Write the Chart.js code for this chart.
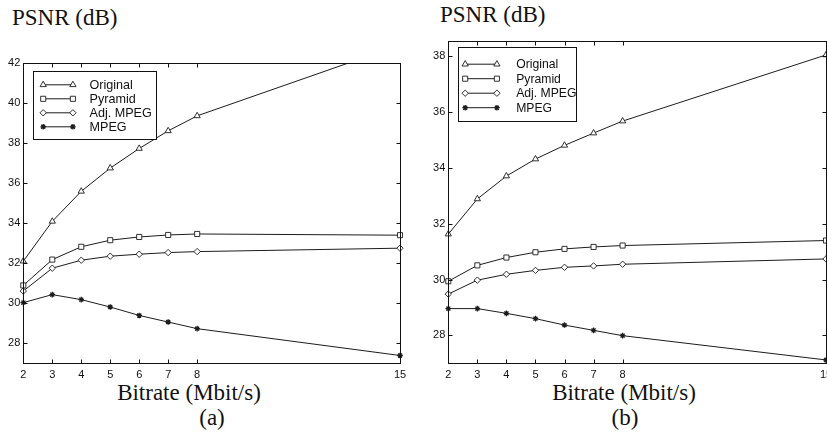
<!DOCTYPE html>
<html>
<head>
<meta charset="utf-8">
<script src="https://cdn.jsdelivr.net/npm/chart.js"></script>
<style>
  html, body { margin:0; padding:0; background:#fff; overflow:hidden; }
  body { width:827px; height:434px; position:relative; }
  canvas { position:absolute; top:0; }
  .txt { position:absolute; font-family:'Liberation Serif','Times New Roman',serif; font-size:23px; line-height:1; color:#111; white-space:nowrap; }
  .mitte { transform:translateX(-50%); }
</style>
</head>
<body>
<div class="txt" style="left:12px;top:6px;">PSNR (dB)</div>
<div class="txt" style="left:440px;top:3px;">PSNR (dB)</div>
<div class="txt mitte" style="left:189px;top:381px;">Bitrate (Mbit/s)</div>
<div class="txt mitte" style="left:624px;top:381px;">Bitrate (Mbit/s)</div>
<div class="txt mitte" style="left:212px;top:406px;">(a)</div>
<div class="txt mitte" style="left:625px;top:406px;">(b)</div>

<canvas id="chart-a" width="415" height="434" style="left:0px;"></canvas>
<canvas id="chart-b" width="415" height="434" style="left:425px;"></canvas>

<script>
// ── Daten (a) ──
const bitrateA  = [2, 3, 4, 5, 6, 7, 8, 15];
const originalA = [32.1, 34.09, 35.59, 36.75, 37.73, 38.61, 39.36, 42.9];
const pyramidA  = [30.89, 32.18, 32.82, 33.15, 33.31, 33.41, 33.46, 33.4];
const adjMpegA  = [30.61, 31.75, 32.15, 32.35, 32.45, 32.53, 32.58, 32.75];
const mpegA     = [30.03, 30.43, 30.18, 29.81, 29.39, 29.06, 28.73, 27.39];

// ── Daten (b) ──
const bitrateB  = [2, 3, 4, 5, 6, 7, 8, 15];
const originalB = [31.63, 32.89, 33.71, 34.32, 34.81, 35.25, 35.68, 38.05];
const pyramidB  = [29.94, 30.51, 30.79, 30.98, 31.1, 31.17, 31.22, 31.4];
const adjMpegB  = [29.48, 29.98, 30.19, 30.33, 30.44, 30.49, 30.55, 30.74];
const mpegB     = [28.96, 28.96, 28.79, 28.6, 28.37, 28.18, 27.99, 27.12];

// ── Achsen ──
const xTicks      = [2, 3, 4, 5, 6, 7, 8, 15];
const xTickLabels = ['2', '3', '4', '5', '6', '7', '8', '15'];
const yTicksA     = [28, 30, 32, 34, 36, 38, 40, 42];
const yTicksB     = [28, 30, 32, 34, 36, 38];
const serien      = ['Original', 'Pyramid', 'Adj. MPEG', 'MPEG'];

const SCHRIFT = "'Liberation Sans', Arial, sans-serif";
const LINIE = '#1c1c1c';

const stile = [
  { pointStyle: 'triangle', pointRadius: 3.6 },
  { pointStyle: 'rect',     pointRadius: 3.6 },
  { pointStyle: 'rectRot',  pointRadius: 3.2 },
  { pointStyle: 'star',     pointRadius: 2.8 }
];

// ── Rahmen, Ticks nach innen, Legende ──
const rahmenPlugin = {
  id: 'rahmen',
  afterDraw(chart, args, opts) {
    const { ctx, chartArea: a, scales: { x, y } } = chart;
    const l = Math.round(a.left) + 0.5, r = Math.round(a.right) + 0.5;
    const t = Math.round(a.top) + 0.5,  b = Math.round(a.bottom) + 0.5;
    ctx.save();
    ctx.strokeStyle = '#111';
    ctx.lineWidth = 1;
    ctx.strokeRect(l, t, r - l, b - t);

    ctx.beginPath();
    x.ticks.forEach(tk => {
      const px = Math.round(x.getPixelForValue(tk.value)) + 0.5;
      ctx.moveTo(px, b); ctx.lineTo(px, b - 4);
      ctx.moveTo(px, t); ctx.lineTo(px, t + 4);
    });
    y.ticks.forEach(tk => {
      const py = Math.round(y.getPixelForValue(tk.value)) + 0.5;
      ctx.moveTo(l, py); ctx.lineTo(l + 4, py);
      ctx.moveTo(r, py); ctx.lineTo(r - 4, py);
    });
    ctx.stroke();

    // Legende
    const lg = opts.legende;
    const bx = Math.round(a.left + lg.x) + 0.5, by = Math.round(a.top + lg.y) + 0.5;
    ctx.fillStyle = '#fff';
    ctx.fillRect(bx, by, lg.w, lg.h);
    ctx.strokeRect(bx, by, lg.w, lg.h);
    ctx.font = `${lg.font}px ${SCHRIFT}`;
    ctx.textBaseline = 'middle';
    chart.data.datasets.forEach((ds, i) => {
      const yy = by + lg.zeile0 + i * lg.abstand;
      ctx.strokeStyle = LINIE;
      ctx.lineWidth = 1;
      ctx.beginPath();
      ctx.moveTo(bx + lg.l0, yy); ctx.lineTo(bx + lg.l1, yy);
      ctx.stroke();
      [lg.l0, lg.l1].forEach(xx => {
        ctx.fillStyle = ds.pointBackgroundColor;
        ctx.strokeStyle = ds.pointBorderColor;
        ctx.lineWidth = ds.pointBorderWidth;
        Chart.helpers.drawPoint(ctx, {
          pointStyle: ds.pointStyle, radius: ds.pointRadius, rotation: 0, borderWidth: ds.pointBorderWidth
        }, bx + xx, yy);
      });
      ctx.fillStyle = '#111';
      ctx.fillText(ds.label, bx + lg.tx, yy + 0.5);
    });
    ctx.restore();
  }
};

function baueChart(canvasId, xs, reihen, yTicks, yMin, yMax, pad, yBreite, legende) {
  const datasets = reihen.map((werte, i) => ({
    label: serien[i],
    data: xs.map((x, k) => ({ x, y: werte[k] })),
    borderColor: LINIE,
    borderWidth: 1,
    pointStyle: stile[i].pointStyle,
    pointRadius: stile[i].pointRadius,
    pointBorderWidth: i === 3 ? 1.3 : 0.9,
    pointBorderColor: LINIE,
    pointBackgroundColor: i === 3 ? LINIE : '#fff',
    tension: 0,
    clip: { left: 6, top: 0, right: 6, bottom: 6 }
  }));

  return new Chart(document.getElementById(canvasId), {
    type: 'line',
    data: { datasets },
    options: {
      responsive: false,
      animation: false,
      layout: { padding: pad },
      plugins: {
        legend: { display: false },
        tooltip: { enabled: false },
        rahmen: { legende }
      },
      scales: {
        x: {
          type: 'linear', min: 2, max: 15,
          afterBuildTicks: s => { s.ticks = xTicks.map(v => ({ value: v })); },
          afterFit: s => { s.height = 22; },
          ticks: {
            autoSkip: false, maxRotation: 0, padding: 5, color: '#111',
            font: { family: SCHRIFT, size: 11 },
            callback: v => xTickLabels[xTicks.indexOf(v)]
          },
          grid: { display: false, drawTicks: false },
          border: { display: false }
        },
        y: {
          min: yMin, max: yMax,
          afterBuildTicks: s => { s.ticks = yTicks.map(v => ({ value: v })); },
          afterFit: s => { s.width = yBreite; },
          ticks: {
            autoSkip: false, padding: 3, color: '#111',
            font: { family: SCHRIFT, size: 11 },
            callback: v => String(v)
          },
          grid: { display: false, drawTicks: false },
          border: { display: false }
        }
      }
    },
    plugins: [rahmenPlugin]
  });
}

baueChart('chart-a', bitrateA, [originalA, pyramidA, adjMpegA, mpegA], yTicksA, 27, 42,
  { top: 63, bottom: 48.7, left: 0, right: 15 }, 23.3,
  { x: 10, y: 8, w: 123, h: 68, zeile0: 13.3, abstand: 14, l0: 9.7, l1: 39.4, tx: 56, font: 12.6 });

baueChart('chart-b', bitrateB, [originalB, pyramidB, adjMpegB, mpegB], yTicksB, 27, 38.55,
  { top: 41, bottom: 48.7, left: 0, right: 14 }, 23.3,
  { x: 10, y: 6.3, w: 118, h: 74, zeile0: 16.7, abstand: 14.5, l0: 6.7, l1: 38.4, tx: 57.7, font: 12.2 });
</script>
</body>
</html>
